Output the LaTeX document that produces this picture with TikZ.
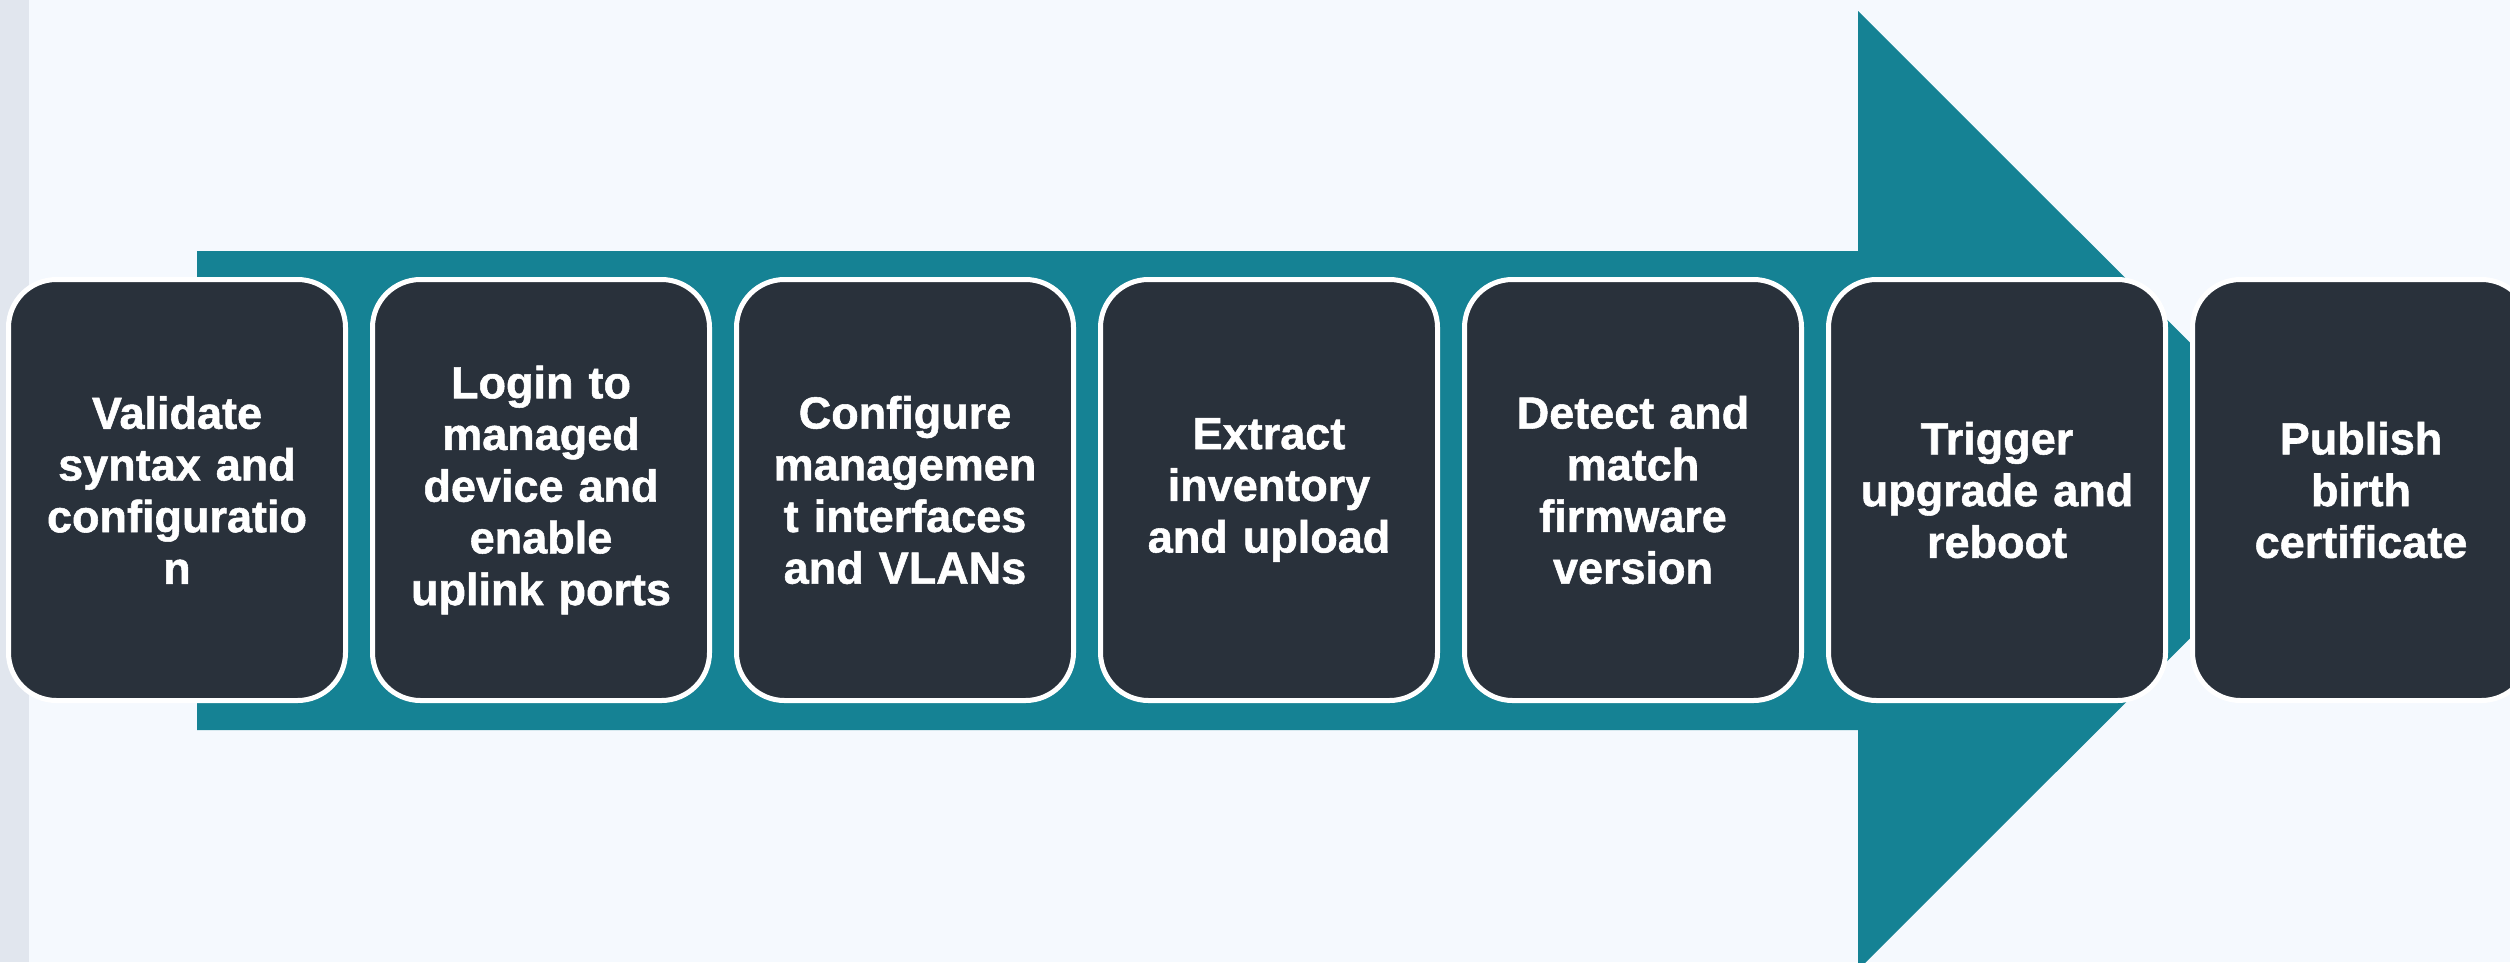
\documentclass[tikz,border=0pt]{standalone}
\usepackage{fontspec}
\setmainfont{Liberation Sans}
\newfontfamily\stepfont{Liberation Sans}[BoldFeatures={FakeBold=1.2}]
\definecolor{pagebg}{HTML}{F5F9FE}
\definecolor{sidebar}{HTML}{E1E6EE}
\definecolor{teal}{HTML}{158294}
\definecolor{stepfill}{HTML}{29313B}
\begin{document}
\begin{tikzpicture}[x=1pt,y=-1pt,
  stepbox/.style={draw=white, line width=5pt, fill=stepfill, rounded corners=48pt,
    minimum width=337pt, minimum height=421pt, inner sep=0pt,
    text=white, align=center, text width=320pt,
    font=\stepfont\fontsize{45}{51.7}\selectfont\bfseries}]
  \useasboundingbox (0,0) rectangle (2510,962);
  \clip (0,0) rectangle (2510,962);
  \fill[pagebg] (0,0) rectangle (2510,962);
  \fill[sidebar] (0,0) rectangle (29,962);
  % the big process arrow behind the steps
  \fill[teal] (197,251) -- (1858,251) -- (1858,11) -- (2338,490.5)
    -- (1858,970) -- (1858,730) -- (197,730) -- cycle;
  % the seven steps
  \node[stepbox] (s1) at (177,490) {Validate\\syntax and\\configuratio\\n};
  \node[stepbox] (s2) at (541,490) {Login to\\managed\\device and\\enable\\uplink ports};
  \node[stepbox] (s3) at (905,490) {Configure\\managemen\\t interfaces\\and VLANs};
  \node[stepbox] (s4) at (1269,490) {Extract\\inventory\\and upload};
  \node[stepbox] (s5) at (1633,490) {Detect and\\match\\firmware\\version};
  \node[stepbox] (s6) at (1997,490) {Trigger\\upgrade and\\reboot};
  \node[stepbox] (s7) at (2361,490) {Publish\\birth\\certificate};
\end{tikzpicture}
\end{document}
